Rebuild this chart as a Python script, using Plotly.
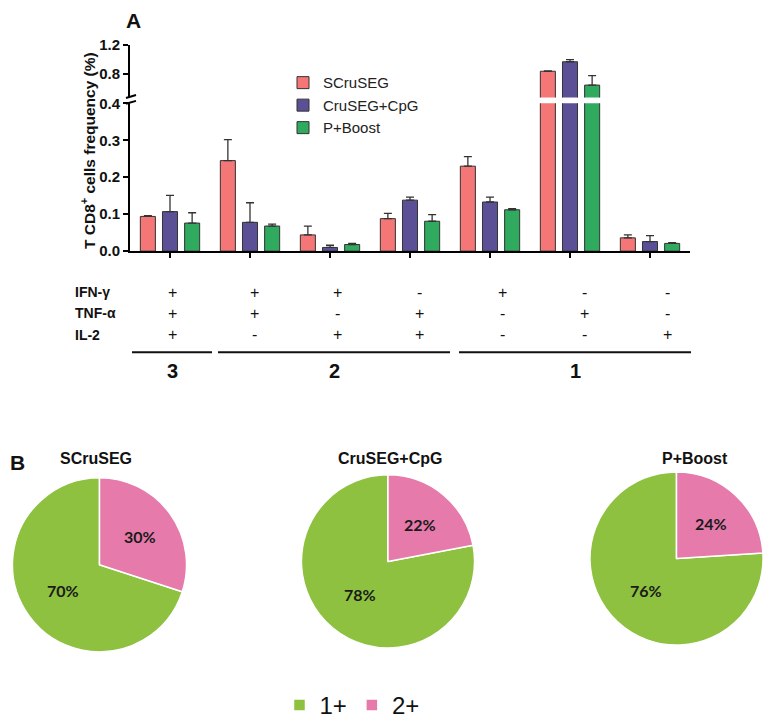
import math
import plotly.graph_objects as go

# ---------------- data ----------------
series_names = ["SCruSEG", "CruSEG+CpG", "P+Boost"]
bar_colors = ["#F47676", "#5B4F96", "#2FAA5F"]
groups_idx = [0, 1, 2, 3, 4, 5, 6]
scruseg_vals = [0.094, 0.245, 0.044, 0.088, 0.230, 0.840, 0.036]
scruseg_err = [0.002, 0.057, 0.024, 0.014, 0.026, 0.003, 0.008]
cpg_vals = [0.107, 0.078, 0.010, 0.138, 0.133, 0.970, 0.026]
cpg_err = [0.044, 0.053, 0.006, 0.008, 0.013, 0.030, 0.016]
boost_vals = [0.076, 0.068, 0.018, 0.081, 0.112, 0.650, 0.021]
boost_err = [0.028, 0.005, 0.003, 0.018, 0.003, 0.130, 0.002]

ifn_row = ["+", "+", "+", "-", "+", "-", "-"]
tnf_row = ["+", "+", "-", "+", "-", "+", "-"]
il2_row = ["+", "-", "+", "+", "-", "-", "+"]
row_labels = ["IFN-γ", "TNF-α", "IL-2"]
func_labels = ["3", "2", "1"]

pie_titles = ["SCruSEG", "CruSEG+CpG", "P+Boost"]
pie_labels = ["1+", "2+"]
pie_one = [70, 78, 76]
pie_two = [30, 22, 24]
pie_colors = ["#8DC13F", "#E57AAB"]

# ---------------- helpers ----------------
W, H = 767, 728
def px(x):
    return x / W
def py(y):
    return 1 - y / H

FONT = "Liberation Sans, Arial, sans-serif"
NARROW = "Liberation Sans Narrow, Arial Narrow, Liberation Sans, Arial, sans-serif"

fig = go.Figure()

def note(x, y, text, font, **kw):
    args = dict(x=px(x), y=py(y), xref="paper", yref="paper", text=text,
                showarrow=False, font=font, xanchor="center", yanchor="middle")
    args.update(kw)
    fig.add_annotation(**args)

all_vals = [scruseg_vals, cpg_vals, boost_vals]
all_errs = [scruseg_err, cpg_err, boost_err]
for k in range(3):
    for ax, show in (("y", True), ("y2", False)):
        fig.add_trace(go.Bar(
            x=groups_idx, y=all_vals[k], name=series_names[k],
            marker=dict(color=bar_colors[k], line=dict(color="#333333", width=1)),
            error_y=dict(type="data", symmetric=False, array=all_errs[k],
                         arrayminus=[0] * 7, color="#333333", thickness=1.3, width=4),
            xaxis="x" if ax == "y" else "x2", yaxis=ax,
            showlegend=show, legend="legend", legendgroup=series_names[k],
            hoverinfo="skip",
        ))

# pies
pie_geo = [(9, 190, 482, 661), (299, 477, 479, 657), (587, 766, 476, 654)]
title_dx = [-4, 2, 18]
for i in range(3):
    x0, x1, y0, y1 = pie_geo[i]
    tot = pie_one[i] + pie_two[i]
    p2 = pie_two[i] / tot
    fig.add_trace(go.Pie(
        labels=pie_labels, values=[pie_one[i], pie_two[i]],
        marker=dict(colors=pie_colors, line=dict(color="white", width=1.5)),
        sort=False, direction="clockwise", rotation=360 * p2,
        textinfo="none", hoverinfo="skip",
        domain=dict(x=[px(x0), px(x1)], y=[py(y1), py(y0)]),
        legend="legend2", showlegend=True,
    ))
    # percentage labels at slice mid-angles (2+ clockwise from 12 o'clock)
    cx, cy = (x0 + x1) / 2, (y0 + y1) / 2
    r = min(x1 - x0, y1 - y0) / 2
    mids = [360 * p2 + (1 - p2) * 180, p2 * 180]
    vals = [pie_one[i], pie_two[i]]
    fracs = [0.5, 0.56]
    for m, v, f in zip(mids, vals, fracs):
        a = math.radians(m)
        tx = cx + f * r * math.sin(a)
        ty = cy - f * r * math.cos(a)
        note(tx, ty, f"<b>{v}%</b>",
             dict(family="Lato, Open Sans, sans-serif", size=16, color="#1a1a1a"))
    note(cx + title_dx[i], 462, f"<b>{pie_titles[i]}</b>",
         dict(family=FONT, size=16, color="#111"))

axis_common = dict(showgrid=False, zeroline=False, showline=True, linecolor="black",
                   linewidth=2, ticks="outside", ticklen=5, tickwidth=2, tickcolor="black")
tickfont = dict(family=FONT, size=15, color="#111", weight="bold")

fig.update_layout(
    width=W, height=H, margin=dict(l=0, r=0, t=0, b=0),
    paper_bgcolor="white", plot_bgcolor="white",
    barmode="group", bargap=0.17, bargroupgap=0.32,
    font=dict(family=FONT, color="#111"),
    xaxis=dict(domain=[px(130), px(690)], range=[-0.5, 6.5], tickvals=groups_idx,
               showticklabels=False, anchor="y", **axis_common),
    xaxis2=dict(domain=[px(130), px(690)], range=[-0.5, 6.5], matches="x",
                visible=False, anchor="y2"),
    yaxis=dict(domain=[py(249), py(97)], range=[0, 0.4],
               tickvals=[0, 0.1, 0.2, 0.3, 0.4], ticktext=["0.0", "0.1", "0.2", "0.3", "0.4"],
               tickfont=tickfont, anchor="x", **axis_common),
    yaxis2=dict(domain=[py(91), py(37)], range=[0.48, 1.2],
                tickvals=[0.8, 1.2], ticktext=["0.8", "1.2"],
                tickfont=tickfont, anchor="x2", **axis_common),
    legend=dict(x=px(283), y=py(59), xanchor="left", yanchor="top",
                font=dict(family=FONT, size=15, color="#222"), bgcolor="rgba(0,0,0,0)",
                tracegroupgap=0, itemclick=False),
    legend2=dict(orientation="h", x=px(352), y=py(716), xanchor="center", yanchor="middle",
                 font=dict(family=FONT, size=24, color="#111"), bgcolor="rgba(0,0,0,0)",
                 itemclick=False),
)

# axis break marks
for yy in (90, 96):
    fig.add_shape(type="line", xref="paper", yref="paper",
                  x0=px(126), y0=py(yy + 1.5), x1=px(136), y1=py(yy - 1.5),
                  line=dict(color="black", width=2))

# y title and panel letters
note(88, 146, "<b>T CD8<sup>+</sup> cells frequency (%)</b>",
     dict(family=FONT, size=15.5, color="#111"), textangle=-90)
note(133, 12, "<b>A</b>", dict(family=FONT, size=21, color="#111"))
note(17, 466, "<b>B</b>", dict(family=FONT, size=21, color="#111"))

# table
row_y = [291, 313, 335]
col_x0, col_dx = 172, 82.5
for r_i, (lab, row) in enumerate(zip(row_labels, [ifn_row, tnf_row, il2_row])):
    note(73, row_y[r_i], f"<b>{lab}</b>", dict(family=NARROW, size=14, color="#111"),
         xanchor="left")
    for c, s in enumerate(row):
        note(col_x0 + c * col_dx, row_y[r_i], s, dict(family=FONT, size=16, color="#111"))

seg = [(132, 212), (218, 450), (459, 691)]
for (a, b), lab in zip(seg, func_labels):
    fig.add_shape(type="line", xref="paper", yref="paper", x0=px(a), x1=px(b),
                  y0=py(353), y1=py(353), line=dict(color="#111", width=2))
    note((a + b) / 2, 372, f"<b>{lab}</b>", dict(family=NARROW, size=20, color="#111"))

fig.write_html("out.html")
